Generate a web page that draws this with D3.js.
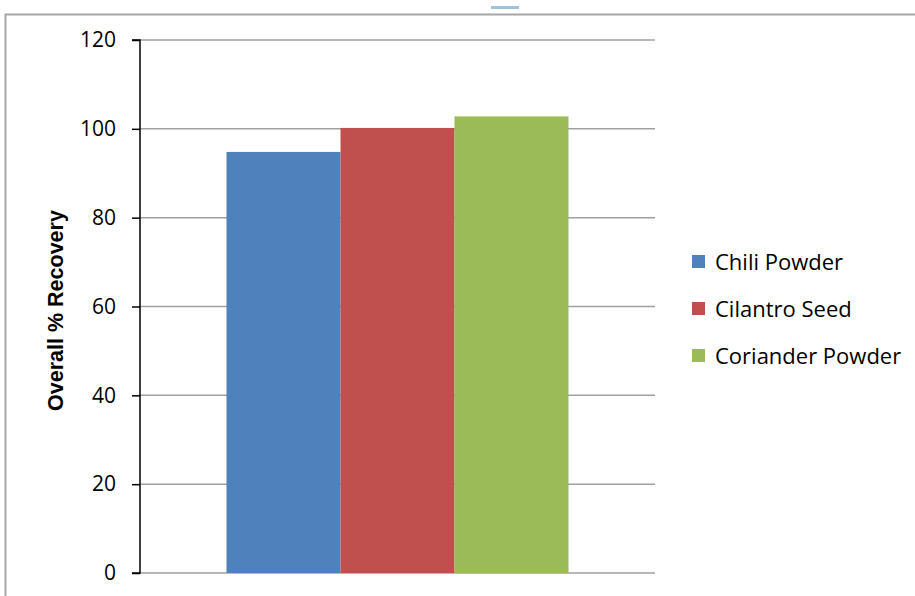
<!DOCTYPE html>
<html><head><meta charset="utf-8">
<script src="https://cdn.jsdelivr.net/npm/d3@7"></script>
<style>body{margin:0;background:#fff}svg{display:block}</style>
</head><body>
<svg id="c" width="915" height="596"></svg>
<script>
const series = ["Chili Powder", "Cilantro Seed", "Coriander Powder"];
const values = [94.8, 100.2, 102.8];
const colors = ["#4F81BD", "#C0504D", "#9BBB59"];
const yTicks = [0, 20, 40, 60, 80, 100, 120];
const yTitle = "Overall % Recovery";

const svg = d3.select("#c");
const font = "'Open Sans', sans-serif";

// outer frame
svg.append("path").attr("d", "M5.5,600 V14.5 H920").attr("fill", "none")
  .attr("stroke", "#a6a6a6").attr("stroke-width", 2);
svg.append("rect").attr("x", 491).attr("y", 6).attr("width", 28).attr("height", 3).attr("fill", "#9dc3e0");

const x = d3.scaleBand().domain(series).range([140, 655]).paddingInner(0).paddingOuter(0.759);
const y = d3.scaleLinear().domain([0, 120]).range([573, 40]);

// gridlines
svg.append("g").selectAll("line").data(yTicks).join("line")
  .attr("x1", 140).attr("x2", 655).attr("y1", d => y(d)).attr("y2", d => y(d))
  .attr("stroke", "#a0a0a0").attr("stroke-width", 1.5);

// bars
svg.append("g").selectAll("rect").data(series).join("rect")
  .attr("x", d => x(d)).attr("width", x.bandwidth())
  .attr("y", (d, i) => y(values[i])).attr("height", (d, i) => y(0) - y(values[i]))
  .attr("fill", (d, i) => colors[i]);

// y axis
const ya = svg.append("g").attr("transform", "translate(140,0)")
  .call(d3.axisLeft(y).tickValues(yTicks).tickSize(8).tickPadding(16).tickFormat(d3.format("d")));
ya.select(".domain").attr("stroke", "#000").attr("stroke-width", 1.5).attr("d", "M-8," + y(120) + "H0V" + y(0) + "H-8");
ya.selectAll(".tick line").attr("stroke", "#000").attr("stroke-width", 1.5);
ya.selectAll(".tick text").attr("font-family", font).attr("font-size", 21).attr("fill", "#000");

// y title
svg.append("text").attr("transform", `translate(63,${(y(0) + y(120)) / 2 + 4}) rotate(-90)`)
  .attr("text-anchor", "middle").attr("font-family", "'Liberation Sans', Arial, sans-serif").attr("font-weight", "bold")
  .attr("font-size", 21.5).text(yTitle);

// legend
const lg = svg.append("g").selectAll("g").data(series).join("g")
  .attr("transform", (d, i) => `translate(692,${262 + i * 47})`);
lg.append("rect").attr("x", 0).attr("y", -7).attr("width", 13).attr("height", 13)
  .attr("fill", (d, i) => colors[i]);
lg.append("text").attr("x", 23).attr("y", 0).attr("dy", "0.36em")
  .attr("font-family", font).attr("font-size", 22).attr("fill", "#000").text(d => d);
</script>
</body></html>
